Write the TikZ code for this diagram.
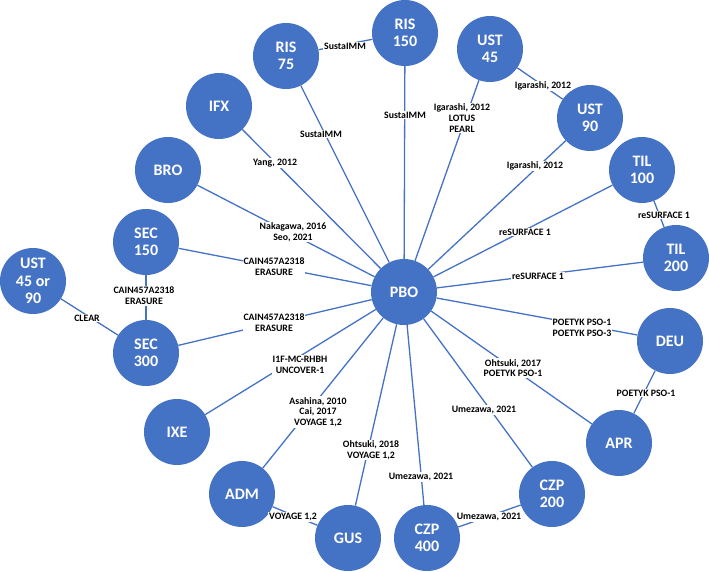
\documentclass[tikz,border=0pt]{standalone}
\usepackage{fontspec}
\setmainfont{Carlito}
\definecolor{nodeblue}{HTML}{4472C4}
\begin{document}
\begin{tikzpicture}[x=1pt,y=-1pt,
  hub/.style={circle,fill=nodeblue,minimum size=66pt,inner sep=0pt,text=white,
    font=\bfseries\fontsize{16}{17.5}\selectfont,align=center},
  link/.style={draw=nodeblue,line width=1.3pt},
  lab/.style={fill=white,inner sep=1pt,font=\bfseries\fontsize{9.8}{10.7}\selectfont,align=center,text=black}]
\useasboundingbox (0,0) rectangle (709,572);
% nodes
\node[hub] (pbo) at (404,292) {PBO};
\node[hub] (ris150) at (405,33) {RIS\\150};
\node[hub] (ris75) at (286,56) {RIS\\75};
\node[hub] (ust45) at (490,49) {UST\\45};
\node[hub] (ust90) at (590,118) {UST\\90};
\node[hub] (til100) at (642,170) {TIL\\100};
\node[hub] (til200) at (676,258) {TIL\\200};
\node[hub] (ifx) at (219,106) {IFX};
\node[hub] (bro) at (168,170) {BRO};
\node[hub] (sec150) at (146,242) {SEC\\150};
\node[hub] (ust4590) at (33,281) {UST\\45 or\\90};
\node[hub] (sec300) at (146,353) {SEC\\300};
\node[hub] (ixe) at (177,432) {IXE};
\node[hub] (adm) at (242,494) {ADM};
\node[hub] (gus) at (348,538) {GUS};
\node[hub] (czp400) at (427,538) {CZP\\400};
\node[hub] (czp200) at (552,494) {CZP\\200};
\node[hub] (apr) at (619,443) {APR};
\node[hub] (deu) at (670,341) {DEU};
% connectors
\foreach \n in {ris150,ris75,ifx,bro,sec150,sec300,ixe,adm,gus,czp400,czp200,apr,deu,til200,til100,ust90,ust45}
  \draw[link] (pbo) -- (\n);
\draw[link] (ris75) -- (ris150);
\draw[link] (ust45) -- (ust90);
\draw[link] (til100) -- (til200);
\draw[link] (sec150) -- (sec300);
\draw[link] (ust4590) -- (sec300);
\draw[link] (deu) -- (apr);
\draw[link] (adm) -- (gus);
\draw[link] (czp400) -- (czp200);
% labels
\node[lab] (l1) at (405,115) {SustaIMM};
\node[lab] (l2) at (321,134) {SustaIMM};
\node[lab] (l3) at (275,163) {Yang, 2012};
\node[lab] (l4) at (293,232) {Nakagawa, 2016\\Seo, 2021};
\node[lab] (l5) at (274,267) {CAIN457A2318\\ERASURE};
\node[lab] (l6) at (274,323) {CAIN457A2318\\ERASURE};
\node[lab] (l7) at (300,365) {I1F-MC-RHBH\\UNCOVER-1};
\node[lab] (l8) at (318,412) {Asahina, 2010\\Cai, 2017\\VOYAGE 1,2};
\node[lab] (l9) at (371,450) {Ohtsuki, 2018\\VOYAGE 1,2};
\node[lab] (l10) at (421,477) {Umezawa, 2021};
\node[lab] (l11) at (484,410) {Umezawa, 2021};
\node[lab] (l12) at (513,368) {Ohtsuki, 2017\\POETYK PSO-1};
\node[lab] (l13) at (582,328) {POETYK PSO-1\\POETYK PSO-3};
\node[lab] (l14) at (538,276) {reSURFACE 1};
\node[lab] (l15) at (525,232) {reSURFACE 1};
\node[lab] (l16) at (535,166) {Igarashi, 2012};
\node[lab] (l17) at (462,118) {Igarashi, 2012\\LOTUS\\PEARL};
\node[lab] (l18) at (345,46) {SustaIMM};
\node[lab] (l19) at (543,86) {Igarashi, 2012};
\node[lab] (l20) at (664,215) {reSURFACE 1};
\node[lab] (l21) at (144,296) {CAIN457A2318\\ERASURE};
\node[lab] (l22) at (87,318) {CLEAR};
\node[lab] (l23) at (646,393) {POETYK PSO-1};
\node[lab] (l24) at (293,517) {VOYAGE 1,2};
\node[lab] (l25) at (489,517) {Umezawa, 2021};
\end{tikzpicture}
\end{document}
